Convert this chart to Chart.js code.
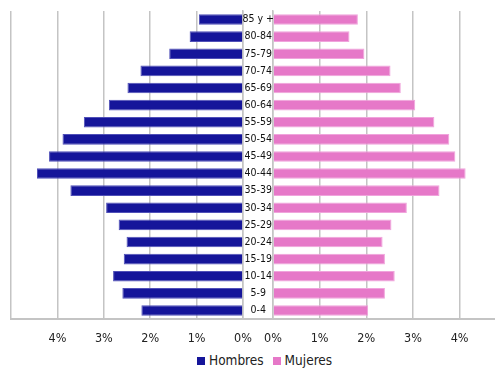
<!DOCTYPE html>
<html>
<head>
<meta charset="utf-8">
<script src="https://cdn.jsdelivr.net/npm/chart.js@4.4.1/dist/chart.umd.min.js"></script>
<style>
  body { margin: 0; background: #fff; }
  #wrap { position: relative; width: 495px; height: 369px; font-family: "DejaVu Sans Condensed", sans-serif; }
  #left { position: absolute; left: 0; top: 0; }
  #right { position: absolute; left: 243px; top: 0; }
  #legend { position: absolute; left: 197px; top: 353px; font-size: 13.5px; color: #222; white-space: nowrap; line-height: 14px; }
  .sw { display: inline-block; width: 8px; height: 8px; margin-right: 4px; }
  .item { display: inline-block; margin-right: 9px; }
</style>
</head>
<body>
<div id="wrap">
  <canvas id="left" width="260" height="350"></canvas>
  <canvas id="right" width="252" height="350"></canvas>
  <div id="legend">
    <span class="item"><span class="sw" style="background:#15159a"></span>Hombres</span><span class="item"><span class="sw" style="background:#e678c8"></span>Mujeres</span>
  </div>
</div>
<script>
const ageGroups = ['85 y +', '80-84', '75-79', '70-74', '65-69', '60-64', '55-59', '50-54', '45-49',
  '40-44', '35-39', '30-34', '25-29', '20-24', '15-19', '10-14', '5-9', '0-4'];
const hombres = [0.95, 1.15, 1.59, 2.21, 2.49, 2.89, 3.43, 3.89, 4.18, 4.44, 3.72, 2.95, 2.68, 2.51, 2.57, 2.80, 2.60, 2.19];
const mujeres = [1.82, 1.64, 1.96, 2.52, 2.74, 3.05, 3.46, 3.78, 3.91, 4.13, 3.57, 2.87, 2.54, 2.35, 2.40, 2.61, 2.40, 2.04];
const pctTicks = [0, 1, 2, 3, 4];

Chart.defaults.font.family = '"DejaVu Sans Condensed", sans-serif';
Chart.defaults.color = '#222';

const gridColor = '#c4c4c4';

function xAxis(extra) {
    return Object.assign({
        type: 'linear',
        grid: { color: gridColor, lineWidth: 1.5, drawTicks: false },
        border: { color: gridColor, width: 2 },
        ticks: { padding: 12, font: { size: 12.5 }, callback: v => v + '%' },
        afterFit(s) { s.height = 31; s.paddingLeft = 0; s.paddingRight = 0; }
    }, extra);
}

// men, drawn to the left
new Chart(document.getElementById('left'), {
    type: 'bar',
    data: {
        labels: ageGroups,
        datasets: [{
            label: 'Hombres',
            data: hombres,
            backgroundColor: '#15159a',
            borderColor: '#5050b8',
            borderWidth: 1,
            categoryPercentage: 1,
            barPercentage: 0.62
        }]
    },
    options: {
        indexAxis: 'y',
        responsive: false,
        animation: false,
        layout: { padding: { left: 11, right: 17, top: 11, bottom: 0 } },
        plugins: { legend: { display: false }, tooltip: { enabled: false } },
        scales: {
            x: xAxis({
                reverse: true, min: 0, max: 5,
                afterBuildTicks(s) { s.ticks = [0, 1, 2, 3, 4, 5].map(v => ({ value: v })); },
                ticks: { padding: 12, font: { size: 12.5 }, callback: v => v === 5 ? '' : v + '%' }
            }),
            y: {
                position: 'right',
                grid: { display: false, drawTicks: false },
                border: { color: gridColor, width: 1.5 },
                ticks: { display: false },
                afterFit(s) { s.width = 0; }
            }
        }
    }
});

// women, drawn to the right, age labels in the gap
const gapLine = {
    id: 'gapLine',
    afterDraw(chart) {
        const { ctx, chartArea } = chart;
        ctx.save();
        ctx.strokeStyle = gridColor;
        ctx.lineWidth = 2;
        ctx.beginPath();
        ctx.moveTo(0, chartArea.bottom);
        ctx.lineTo(chartArea.left, chartArea.bottom);
        ctx.stroke();
        ctx.restore();
    }
};

new Chart(document.getElementById('right'), {
    type: 'bar',
    data: {
        labels: ageGroups,
        datasets: [{
            label: 'Mujeres',
            data: mujeres,
            backgroundColor: '#e678c8',
            borderColor: '#f0a4dc',
            borderWidth: 1,
            categoryPercentage: 1,
            barPercentage: 0.62
        }]
    },
    options: {
        indexAxis: 'y',
        responsive: false,
        animation: false,
        layout: { padding: { left: 0, right: 0, top: 11, bottom: 0 } },
        plugins: { legend: { display: false }, tooltip: { enabled: false } },
        scales: {
            x: xAxis({
                min: 0, max: 4.76,
                afterBuildTicks(s) { s.ticks = pctTicks.map(v => ({ value: v })); }
            }),
            y: {
                position: 'left',
                grid: { display: false, drawTicks: false },
                border: { color: gridColor, width: 1.5 },
                ticks: { crossAlign: 'center', padding: -1, font: { size: 10.5 }, color: '#111' },
                afterFit(s) { s.width = 30; }
            }
        }
    },
    plugins: [gapLine]
});
</script>
</body>
</html>
